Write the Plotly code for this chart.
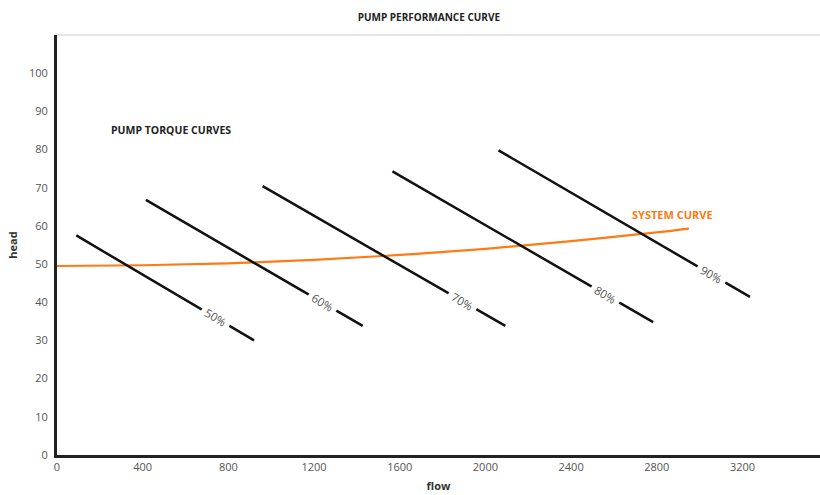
import plotly.graph_objects as go

# Pump torque curves: straight lines between two end points (flow, head)
torque_labels = ["50%", "60%", "70%", "80%", "90%"]
torque_flow_start = [90, 415, 960, 1566, 2061]
torque_head_start = [57.5, 66.8, 70.4, 74.3, 79.8]
torque_flow_end = [920, 1427, 2093, 2783, 3235]
torque_head_end = [30.0, 33.8, 33.8, 34.8, 41.4]
# Where each percentage label sits along its line
label_flow = [741, 1240, 1893, 2559, 3054]

# System curve
system_flow = [0, 400, 800, 1200, 1600, 2000, 2400, 2800, 2950]
system_head = [49.5, 49.7, 50.2, 51.1, 52.4, 54.0, 56.0, 58.3, 59.3]

x_ticks = [0, 400, 800, 1200, 1600, 2000, 2400, 2800, 3200]
y_ticks = [0, 10, 20, 30, 40, 50, 60, 70, 80, 90, 100]

FONT = "Open Sans"
ORANGE = "#ff7a12"

fig = go.Figure()

fig.add_trace(go.Scatter(
    x=system_flow, y=system_head, mode="lines",
    line=dict(color=ORANGE, width=2.2, shape="spline"),
    hoverinfo="skip", showlegend=False,
))

for i, lab in enumerate(torque_labels):
    fig.add_trace(go.Scatter(
        x=[torque_flow_start[i], torque_flow_end[i]],
        y=[torque_head_start[i], torque_head_end[i]],
        mode="lines", line=dict(color="#111111", width=2.5),
        hoverinfo="skip", showlegend=False,
    ))
    slope = (torque_head_end[i] - torque_head_start[i]) / (torque_flow_end[i] - torque_flow_start[i])
    ly = torque_head_start[i] + slope * (label_flow[i] - torque_flow_start[i])
    fig.add_annotation(
        x=label_flow[i], y=ly, text=lab, showarrow=False, textangle=30,
        font=dict(family=FONT, size=11.5, color="#555555"),
        bgcolor="white", borderpad=4,
    )

fig.add_annotation(
    x=2872, y=63.1, text="<b>SYSTEM CURVE</b>", showarrow=False,
    font=dict(family=FONT, size=11, color=ORANGE),
)
fig.add_annotation(
    x=242, y=85, text="<b>PUMP TORQUE CURVES</b>", showarrow=False, xanchor="left",
    font=dict(family=FONT, size=10.5, color="#222222"),
)

# light top border of the plot area
fig.add_shape(type="line", xref="paper", yref="paper", x0=0, x1=1, y0=1, y1=1,
              line=dict(color="#dddddd", width=1.5))

fig.update_layout(
    width=820, height=495,
    margin=dict(l=57, r=0, t=35, b=40),
    paper_bgcolor="white", plot_bgcolor="white",
    title=dict(text="<b>PUMP PERFORMANCE CURVE</b>", x=0.523, xanchor="center",
               y=0.965, yanchor="middle",
               font=dict(family=FONT, size=10, color="#222222")),
    font=dict(family=FONT),
)
fig.update_xaxes(
    range=[0, 3562], tickvals=x_ticks, ticktext=[str(v) for v in x_ticks],
    showgrid=False, zeroline=False, showline=True, linecolor="#222222", linewidth=3,
    ticks="", tickfont=dict(family=FONT, size=11, color="#555555"),
    title=dict(text="<b>flow</b>", font=dict(family=FONT, size=11, color="#333333"), standoff=10),
)
fig.update_yaxes(
    range=[0, 110], tickvals=y_ticks, ticktext=[str(v) for v in y_ticks],
    showgrid=False, zeroline=False, showline=True, linecolor="#222222", linewidth=3,
    ticks="outside", ticklen=4, tickcolor="rgba(0,0,0,0)",
    tickfont=dict(family=FONT, size=11, color="#555555"),
    title=dict(text="<b>head</b>", font=dict(family=FONT, size=11, color="#333333"), standoff=10),
)

fig.write_html("out.html")
